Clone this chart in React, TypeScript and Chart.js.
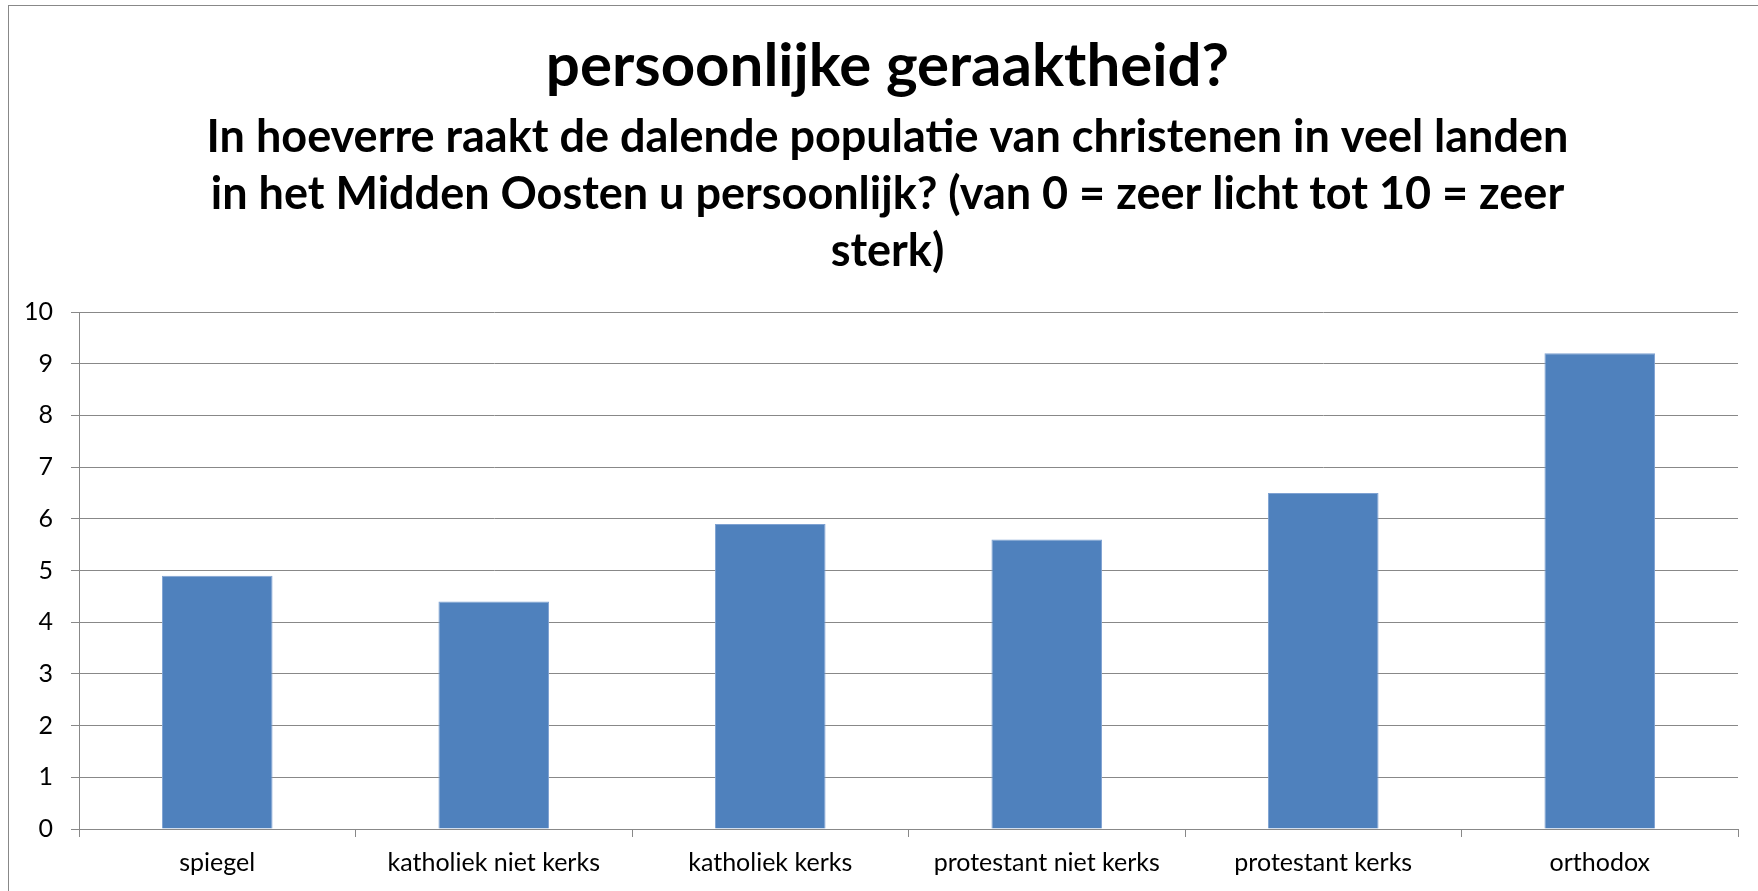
import React, { useEffect, useRef } from "react";
import { Chart, registerables } from "chart.js";

Chart.register(...registerables);

const categories = [
  "spiegel",
  "katholiek niet kerks",
  "katholiek kerks",
  "protestant niet kerks",
  "protestant kerks",
  "orthodox",
];
const values = [4.9, 4.4, 5.9, 5.6, 6.5, 9.2];
const yTicks = [0, 1, 2, 3, 4, 5, 6, 7, 8, 9, 10];
const titleText = "persoonlijke geraaktheid?";
const subtitleLines = [
  "In hoeverre raakt de dalende populatie van christenen in veel landen",
  "in het Midden Oosten u persoonlijk? (van 0 = zeer licht tot 10 = zeer",
  "sterk)",
];

const FONT = "Lato";
const TITLE_SHIFT_X = 14;

const shiftTitles = {
  id: "shiftTitles",
  afterLayout(chart: any) {
    for (const box of chart.boxes) {
      if (box.position === "top" && !box.axis) {
        box.left += TITLE_SHIFT_X;
        box.right += TITLE_SHIFT_X;
      }
    }
  },
};

export default function App() {
  const ref = useRef<HTMLCanvasElement | null>(null);

  useEffect(() => {
    if (!ref.current) return;
    const chart = new Chart(ref.current, {
      type: "bar",
      data: {
        labels: categories,
        datasets: [
          {
            data: values,
            backgroundColor: "#4F81BD",
            borderColor: "#7FA2D2",
            borderWidth: 1,
            categoryPercentage: 1,
            barPercentage: 0.4,
          },
        ],
      },
      plugins: [shiftTitles],
      options: {
        animation: false,
        responsive: true,
        maintainAspectRatio: false,
        layout: { padding: { top: 25, left: 0, right: 20, bottom: 0 } },
        plugins: {
          legend: { display: false },
          tooltip: { enabled: false },
          title: {
            display: true,
            text: titleText,
            color: "#000",
            font: { family: FONT, size: 60, weight: "bold", lineHeight: 1.2 },
            padding: { top: 0, bottom: 0 },
          },
          subtitle: {
            display: true,
            text: subtitleLines,
            color: "#000",
            font: { family: FONT, size: 45, weight: "bold", lineHeight: 57 / 45 },
            padding: { top: 6, bottom: 32 },
          },
        },
        scales: {
          x: {
            afterFit: (scale: any) => {
              scale.height = 62;
            },
            grid: {
              display: true,
              offset: true,
              drawOnChartArea: false,
              drawTicks: true,
              tickLength: 8,
              color: "#888888",
            },
            border: { display: true, color: "#888888", width: 1 },
            ticks: {
              color: "#000",
              font: { family: FONT, size: 25 },
              padding: 11,
              maxRotation: 0,
              autoSkip: false,
            },
          },
          y: {
            min: yTicks[0],
            max: yTicks[yTicks.length - 1],
            afterFit: (scale: any) => {
              scale.width = 70;
            },
            grid: {
              color: "#888888",
              lineWidth: 1,
              tickLength: 8,
              drawTicks: true,
            },
            border: { display: true, color: "#888888", width: 1 },
            ticks: {
              stepSize: 1,
              color: "#000",
              font: { family: FONT, size: 25 },
              padding: 18,
            },
          },
        },
      },
    });
    return () => chart.destroy();
  }, []);

  return (
    <div
      style={{
        position: "absolute",
        left: 8,
        top: 5,
        width: 1750,
        height: 886,
        boxSizing: "border-box",
        borderLeft: "1px solid #888",
        borderTop: "1px solid #888",
        background: "#fff",
      }}
    >
      <canvas ref={ref} />
    </div>
  );
}
